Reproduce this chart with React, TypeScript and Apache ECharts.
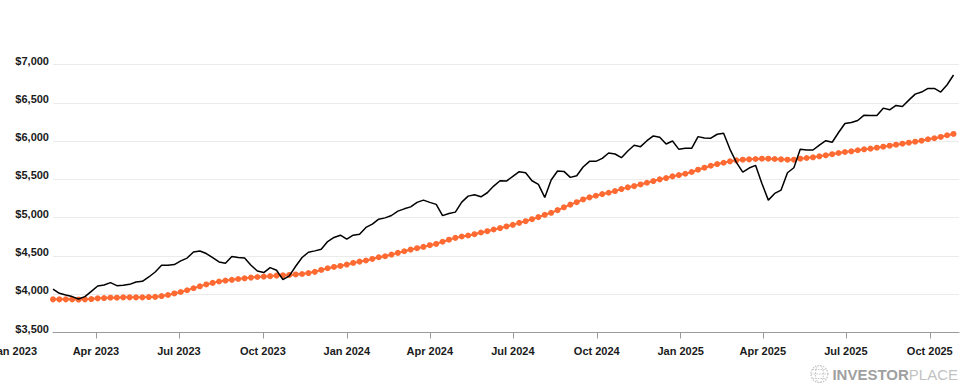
import React, { useEffect, useRef } from "react";
import * as echarts from "echarts";

// Weekly observations (Mondays) starting 13 Feb 2023
const startDate = [2023, 1, 13];

const portfolioValues = [
  4068, 4012, 3990, 3969, 3937, 3969, 4038, 4107, 4120, 4152,
  4112, 4116, 4129, 4160, 4169, 4225, 4290, 4378, 4378, 4387,
  4435, 4472, 4552, 4565, 4531, 4479, 4421, 4404, 4492, 4479,
  4474, 4378, 4304, 4283, 4348, 4313, 4191, 4239, 4365, 4479,
  4548, 4566, 4588, 4688, 4741, 4771, 4719, 4771, 4784, 4872,
  4915, 4980, 4997, 5028, 5085, 5115, 5141, 5199, 5229, 5199,
  5173, 5026, 5055, 5072, 5203, 5281, 5298, 5272, 5325, 5412,
  5482, 5478, 5539, 5600, 5587, 5482, 5435, 5264, 5491, 5609,
  5604, 5526, 5547, 5661, 5735, 5735, 5774, 5844, 5831, 5783,
  5870, 5945, 5927, 6005, 6067, 6050, 5962, 6001, 5892, 5905,
  5905, 6058, 6040, 6037, 6089, 6102, 5892, 5722, 5595, 5648,
  5683, 5447, 5229, 5316, 5360, 5586, 5652, 5892, 5883, 5883,
  5948, 6005, 5985, 6112, 6230, 6243, 6269, 6338, 6334, 6334,
  6430, 6408, 6465, 6452, 6535, 6613, 6640, 6688, 6688, 6640,
  6736, 6863,
];

const averageValues = [
  3933, 3933, 3933, 3933, 3930, 3933, 3937, 3946, 3950, 3955,
  3955, 3959, 3959, 3959, 3959, 3963, 3965, 3976, 3990, 4010,
  4029, 4052, 4078, 4103, 4128, 4148, 4166, 4178, 4188, 4199,
  4208, 4217, 4225, 4230, 4236, 4243, 4247, 4252, 4258, 4264,
  4276, 4292, 4317, 4339, 4356, 4369, 4387, 4408, 4426, 4440,
  4461, 4483, 4496, 4518, 4540, 4561, 4583, 4601, 4618, 4640,
  4657, 4685, 4712, 4736, 4754, 4767, 4784, 4806, 4823, 4845,
  4863, 4885, 4906, 4932, 4954, 4980, 5007, 5037, 5063, 5098,
  5135, 5170, 5202, 5238, 5265, 5286, 5308, 5325, 5347, 5373,
  5395, 5412, 5434, 5456, 5478, 5500, 5517, 5539, 5556, 5573,
  5596, 5626, 5652, 5678, 5700, 5717, 5735, 5748, 5757, 5761,
  5766, 5770, 5770, 5766, 5761, 5757, 5757, 5770, 5779, 5788,
  5801, 5814, 5829, 5844, 5857, 5866, 5880, 5892, 5901, 5914,
  5927, 5940, 5953, 5966, 5979, 5992, 6005, 6024, 6037, 6054,
  6076, 6093,
];

// Quarterly tick labels [year, monthIndex]
const tickDates: [number, number][] = [
  [2023, 3], [2023, 6], [2023, 9],
  [2024, 0], [2024, 3], [2024, 6], [2024, 9],
  [2025, 0], [2025, 3], [2025, 6], [2025, 9],
];
const outsideLabelDate: [number, number] = [2023, 0];
const axisEnd = [2025, 10, 2];

const yMin = 3500;
const yMax = 7000;
const yStep = 500;

const MONTHS = ["Jan", "Feb", "Mar", "Apr", "May", "Jun", "Jul", "Aug", "Sep", "Oct", "Nov", "Dec"];
const FONT = "'Liberation Sans', Arial, Helvetica, sans-serif";

function weekDate(i: number) {
  return new Date(startDate[0], startDate[1], startDate[2] + 7 * i).getTime();
}
function fmtDate(v: number) {
  const d = new Date(v);
  return MONTHS[d.getMonth()] + " " + d.getFullYear();
}

export default function App() {
  const ref = useRef<HTMLDivElement>(null);
  useEffect(() => {
    if (!ref.current) return;
    const chart = echarts.init(ref.current, undefined, { renderer: "svg" });
    const blackData = portfolioValues.map((v, i) => [weekDate(i), v]);
    const orangeData = averageValues.map((v, i) => [weekDate(i), v]);
    const ticks = tickDates.map(([y, m]) => new Date(y, m, 1).getTime());
    chart.setOption({
      animation: false,
      backgroundColor: "#ffffff",
      grid: {
        left: 53,
        right: 16,
        top: 64.5,
        bottom: 57.5,
        containLabel: false,
        outerBoundsMode: "none",
      },
      xAxis: {
        type: "value",
        min: weekDate(0),
        max: new Date(axisEnd[0], axisEnd[1], axisEnd[2]).getTime(),
        axisLine: { show: true, lineStyle: { color: "#9a9a9a", width: 1 } },
        axisTick: { show: true, length: 6, lineStyle: { color: "#9a9a9a" }, customValues: ticks },
        axisLabel: {
          customValues: ticks,
          formatter: (v: number) => fmtDate(v),
          color: "#1a1a1a",
          fontWeight: "bold",
          fontSize: 11,
          fontFamily: FONT,
          margin: 13,
          showMinLabel: true,
          showMaxLabel: true,
        },
        splitLine: { show: false },
      },
      yAxis: {
        type: "value",
        min: yMin,
        max: yMax,
        interval: yStep,
        axisLine: { show: false },
        axisTick: { show: false },
        axisLabel: {
          formatter: (v: number) => "$" + v.toLocaleString("en-US"),
          color: "#1a1a1a",
          fontWeight: "bold",
          fontSize: 11,
          fontFamily: FONT,
          margin: 4,
          verticalAlign: "bottom",
          lineHeight: 8,
        },
        splitLine: { show: true, lineStyle: { color: "#ebebeb", width: 1 } },
      },
      series: [
        {
          type: "line",
          data: orangeData,
          symbol: "circle",
          symbolSize: 6,
          showSymbol: true,
          lineStyle: { color: "#ff6a33", width: 2 },
          itemStyle: { color: "#ff6a33" },
          z: 2,
        },
        {
          type: "line",
          data: blackData,
          showSymbol: false,
          symbol: "none",
          lineStyle: { color: "#000000", width: 1.5 },
          z: 3,
        },
      ],
    });
    const janTs = new Date(outsideLabelDate[0], outsideLabelDate[1], 1).getTime();
    const janX = chart.convertToPixel({ xAxisIndex: 0 }, janTs) as number;
    const axisY = chart.convertToPixel({ yAxisIndex: 0 }, yMin) as number;
    chart.setOption({
      graphic: [
        {
          type: "text",
          x: janX,
          y: axisY + 13,
          style: {
            text: fmtDate(janTs),
            align: "center",
            verticalAlign: "top",
            font: "bold 11px " + FONT,
            fill: "#1a1a1a",
          },
        },
        {
          type: "group",
          right: 17,
          bottom: 5,
          children: [
            { type: "circle", shape: { cx: 9, cy: 9, r: 8.5 }, style: { fill: "none", stroke: "#c4c4c4", lineWidth: 1.2, lineDash: [1.5, 1.2] } },
            { type: "ellipse", shape: { cx: 9, cy: 9, rx: 4, ry: 8.5 }, style: { fill: "none", stroke: "#c4c4c4", lineWidth: 1, lineDash: [1.5, 1.2] } },
            { type: "line", shape: { x1: 0.5, y1: 9, x2: 17.5, y2: 9 }, style: { stroke: "#c4c4c4", lineWidth: 1, lineDash: [1.5, 1.2] } },
            { type: "line", shape: { x1: 2, y1: 4.5, x2: 16, y2: 4.5 }, style: { stroke: "#c4c4c4", lineWidth: 1, lineDash: [1.5, 1.2] } },
            { type: "line", shape: { x1: 2, y1: 13.5, x2: 16, y2: 13.5 }, style: { stroke: "#c4c4c4", lineWidth: 1, lineDash: [1.5, 1.2] } },
            {
              type: "text",
              x: 22,
              y: 9,
              style: {
                text: "{a|INVESTOR}{b|PLACE}",
                verticalAlign: "middle",
                rich: {
                  a: { font: "bold 15px " + FONT, fill: "#a0a0a0" },
                  b: { font: "15px " + FONT, fill: "#c2c2c2" },
                },
              },
            },
          ],
        },
      ],
    });
    return () => chart.dispose();
  }, []);
  return <div ref={ref} style={{ position: "fixed", left: 0, top: 0, width: 975, height: 390 }} />;
}
